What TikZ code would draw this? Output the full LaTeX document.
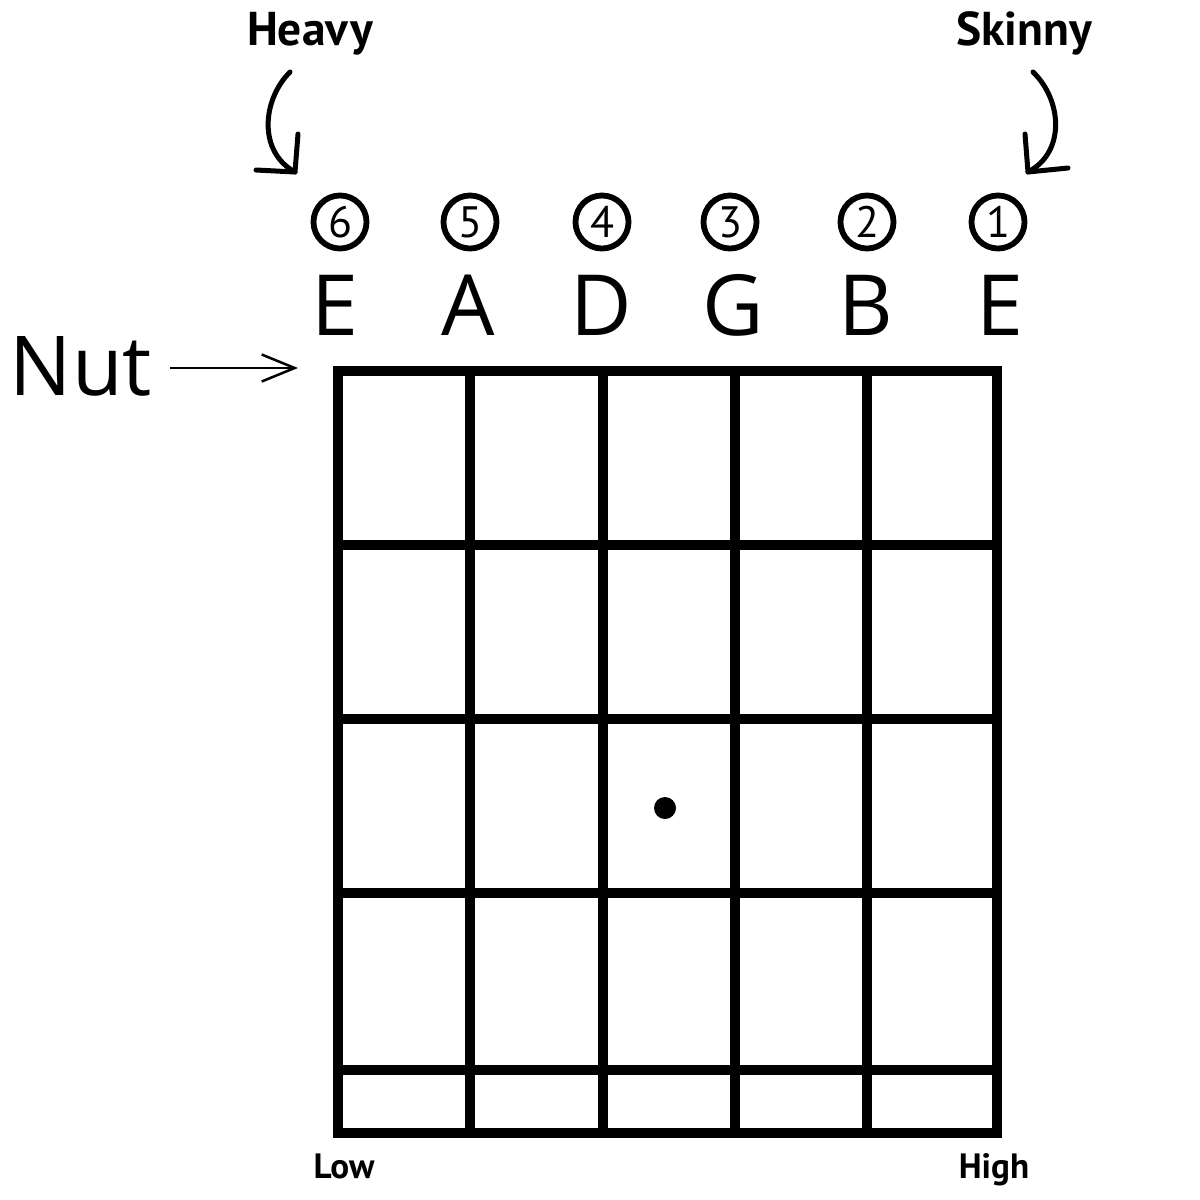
\documentclass[tikz,border=0pt]{standalone}
\usepackage{fontspec}
\setmainfont{Open Sans}
\newfontfamily\labfont{PT Sans}
\usetikzlibrary{arrows.meta}
\begin{document}
\begin{tikzpicture}[x=0.01cm,y=-0.01cm,
  gridline/.style={line width=0.095cm, line cap=rect, line join=miter},
  strnum/.style={circle, draw, line width=0.058cm, minimum size=0.53cm, inner sep=0pt, font=\labfont\fontsize{12.5}{13}\selectfont},
  strname/.style={anchor=base, font=\fontsize{24}{26}\selectfont, inner sep=0pt},
  curvy/.style={line width=0.05cm, line cap=round, line join=round},
  small/.style={anchor=base, font=\labfont\bfseries\fontsize{10}{12}\selectfont, inner sep=0pt},
  mid/.style={anchor=base, font=\labfont\bfseries\fontsize{13.5}{16}\selectfont, inner sep=0pt}]
\useasboundingbox (0,0) rectangle (1200,1200);
% grid
\draw[gridline] (338,371) rectangle (997,1133);
\foreach \x in {470,603,735,867} \draw[gridline] (\x,371) -- (\x,1133);
\foreach \y in {545,719,893,1070} \draw[gridline] (338,\y) -- (997,\y);
% dot
\fill (665,808) circle (0.11cm);
% string numbers
\node[strnum] (s6) at (340,222) {6};
\node[strnum] (s5) at (470,222) {5};
\node[strnum] (s4) at (602,222) {4};
\node[strnum] (s3) at (730,222) {3};
\node[strnum] (s2) at (867,222) {2};
\node[strnum] (s1) at (998,222) {1};
% string names
\node[strname] (l6) at (335,335) {E};
\node[strname] (l5) at (468,335) {A};
\node[strname] (l4) at (601,335) {D};
\node[strname] (l3) at (733,335) {G};
\node[strname] (l2) at (866,335) {B};
\node[strname] (l1) at (1000,335) {E};
% Nut
\node[anchor=base west, font=\fontsize{23.5}{26}\selectfont, inner sep=0pt] (nut) at (9,395) {Nut};
\coordinate (nutS) at (170,368);
\coordinate (nutE) at (298,368);
\draw[line width=0.025cm, -{Straight Barb[length=0.33cm, width=0.27cm, line width=0.025cm]}] (nutS) -- (nutE);
% Heavy / Skinny
\node[mid] (heavy) at (310,45) {Heavy};
\node[mid] (skinny) at (1024,45) {Skinny};
\coordinate (hS) at (290,72);
\coordinate (hT) at (295,172);
\coordinate (hA) at (256,170);
\coordinate (hB) at (298,134);
\draw[curvy] (hS) .. controls (262,100) and (258,152) .. (hT);
\draw[curvy] (hA) -- (hT) -- (hB);
\coordinate (kS) at (1033,72);
\coordinate (kT) at (1028,172);
\coordinate (kA) at (1025,134);
\coordinate (kB) at (1068,168);
\draw[curvy] (kS) .. controls (1062,100) and (1066,152) .. (kT);
\draw[curvy] (kA) -- (kT) -- (kB);
% Low / High
\node[small] (low) at (344,1178) {Low};
\node[small] (high) at (994,1178) {High};
\end{tikzpicture}
\end{document}
